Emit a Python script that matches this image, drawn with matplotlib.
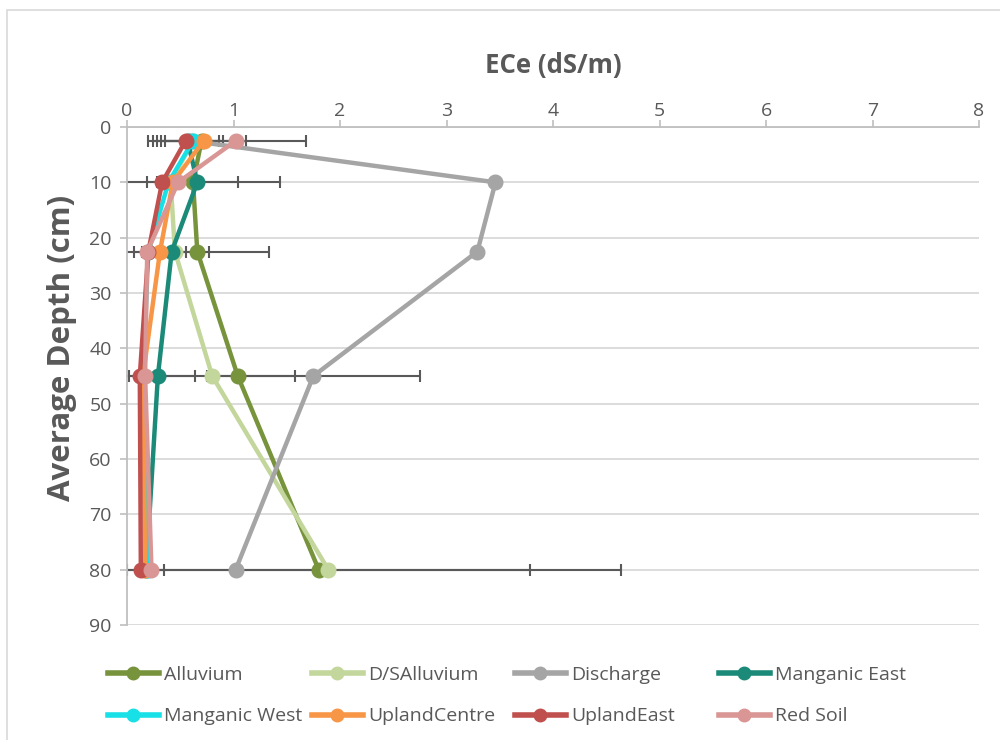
import matplotlib
matplotlib.use("Agg")
import matplotlib.pyplot as plt
import numpy as np
from matplotlib.patches import Rectangle

plt.rcParams['font.family'] = ['Open Sans', 'DejaVu Sans']

depths = [2.5, 10, 22.5, 45, 80]
series_names = ["Alluvium", "D/SAlluvium", "Discharge", "Manganic East",
                "Manganic West", "UplandCentre", "UplandEast", "Red Soil"]
alluvium      = [0.70, 0.62, 0.66, 1.04, 1.80]
ds_alluvium   = [0.62, 0.41, 0.45, 0.80, 1.89]
discharge     = [0.60, 3.46, 3.29, 1.75, 1.02]
manganic_east = [0.57, 0.66, 0.42, 0.29, 0.18]
manganic_west = [0.62, 0.39, 0.20, 0.15, 0.20]
upland_centre = [0.72, 0.43, 0.31, 0.15, 0.17]
upland_east   = [0.55, 0.33, 0.20, 0.12, 0.13]
red_soil      = [1.02, 0.48, 0.19, 0.17, 0.23]

# symmetric error values (0 = no error bar)
err_alluvium      = [0.00, 0.82, 0.67, 0.00, 0.00]
err_ds_alluvium   = [0.00, 0.00, 0.10, 0.78, 1.89]
err_discharge     = [0.00, 0.00, 0.00, 1.00, 3.62]
err_manganic_east = [0.29, 0.38, 0.35, 0.35, 0.00]
err_manganic_west = [0.38, 0.00, 0.00, 0.00, 0.00]
err_upland_centre = [0.40, 0.00, 0.17, 0.00, 0.00]
err_upland_east   = [0.35, 0.14, 0.00, 0.00, 0.00]
err_red_soil      = [0.66, 0.00, 0.00, 0.00, 0.12]

x_ticks = [0, 1, 2, 3, 4, 5, 6, 7, 8]
y_ticks = [0, 10, 20, 30, 40, 50, 60, 70, 80, 90]

values = [alluvium, ds_alluvium, discharge, manganic_east,
          manganic_west, upland_centre, upland_east, red_soil]
errors = [err_alluvium, err_ds_alluvium, err_discharge, err_manganic_east,
          err_manganic_west, err_upland_centre, err_upland_east, err_red_soil]
colors = ["#77933C", "#C3D69B", "#A5A5A5", "#1B8A78",
          "#17E0E6", "#F79646", "#C0504D", "#D99694"]

TXT = "#595959"
fig = plt.figure(figsize=(10, 7.4), dpi=100)
fig.patches.append(Rectangle((7/1000, -0.05), 1.2, 1.05 - 10/740, transform=fig.transFigure,
                             fill=False, edgecolor="#D9D9D9", lw=1.2))
ax = fig.add_axes([0.127, 1 - 625/740, 0.852, (625 - 127)/740])

d = np.array(depths)
for v, e in zip(values, errors):
    v = np.array(v); e = np.array(e)
    m = e > 0
    if m.any():
        ax.errorbar(v[m], d[m], xerr=e[m], fmt='none', ecolor="#595959",
                    elinewidth=1.5, capsize=4, capthick=1.5, zorder=2)

handles = []
for i, (name, v, c) in enumerate(zip(series_names, values, colors)):
    h, = ax.plot(v, depths, color=c, lw=3.2, marker='o', ms=10.5,
                 label=name, zorder=3 + i, solid_joinstyle='round')
    handles.append(h)

ax.set_xlim(0, 8)
ax.set_ylim(90, 0)
ax.set_xticks(x_ticks)
ax.set_yticks(y_ticks)
ax.xaxis.tick_top()
ax.xaxis.set_label_position('top')
ax.yaxis.grid(True, color="#D9D9D9", lw=1.3)
ax.set_axisbelow(True)
for s in ['right', 'bottom']:
    ax.spines[s].set_visible(False)
for s in ['top', 'left']:
    ax.spines[s].set_color("#BFBFBF")
    ax.spines[s].set_linewidth(1.3)
ax.tick_params(axis='both', colors="#BFBFBF", labelcolor=TXT, labelsize=14,
               length=5, width=1.2)
ax.tick_params(axis='x', pad=0)
ax.tick_params(axis='y', pad=6)
ax.set_xlabel("ECe (dS/m)", fontsize=18.5, fontweight='bold', color=TXT, labelpad=21)
ax.set_ylabel("Average Depth (cm)", fontsize=22.5, fontweight='bold', color=TXT,
              va='center', ha='center')
ax.yaxis.set_label_coords((62 - 127) / 852, (625 - 348) / 498)

col_x = [108, 312, 515, 719]
for k in range(4):
    hs = [handles[k], handles[k + 4]]
    leg = fig.legend(handles=hs, labels=[h.get_label() for h in hs],
                     loc='upper left', bbox_to_anchor=(col_x[k] / 1000, 1 - 666 / 740),
                     frameon=False, fontsize=14, handlelength=2.6, handletextpad=0.3,
                     labelspacing=1.2, borderpad=0, borderaxespad=0)
    for t in leg.get_texts():
        t.set_color(TXT)
    for lh in leg.legend_handles:
        lh.set_markersize(9)
        lh.set_linewidth(4)

fig.savefig("out.png", dpi=100)
